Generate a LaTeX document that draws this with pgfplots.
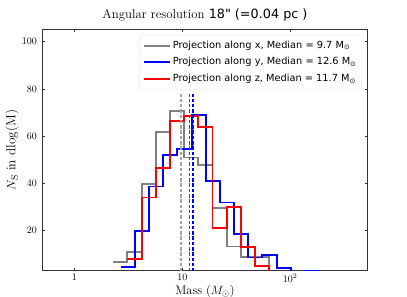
\documentclass[border=0pt]{standalone}
\usepackage{fontspec}
\usepackage{pgfplots}
\pgfplotsset{compat=1.18}
\newfontfamily\dejavu{DejaVu Sans}
\definecolor{hgray}{RGB}{128,128,128}
\definecolor{mgray}{RGB}{165,165,165}
\definecolor{hblue}{RGB}{0,0,255}
\definecolor{hred}{RGB}{255,0,0}
\begin{document}
\begin{tikzpicture}
\begin{axis}[
  at={(0,0)}, anchor=south west,
  scale only axis, width=325pt, height=241.4pt,
  xmode=log, xmin=0.506, xmax=521, ymin=2.7, ymax=105.3,
  xtick={1,10,100}, xticklabels={$1$,$10$,$10^2$},
  ytick={20,40,60,80,100},
  xminorticks=false, yminorticks=false,
  tick align=inside, major tick length=3pt,
  tick style={black!80, line width=0.6pt},
  tick label style={font=\fontsize{10}{11}\selectfont},
  yticklabel style={xshift=-2pt},
  axis line style={line width=0.9pt, draw=black!80},
  title={Angular resolution {\dejavu 18" (=0.04 pc )}},
  title style={font=\fontsize{12.8}{14}\selectfont, at={(axis description cs:0.5,1)}, anchor=base, yshift=4.3pt},
  xlabel={Mass ($M_\odot$)},
  xlabel style={font=\fontsize{12.4}{14}\selectfont, at={(axis description cs:0.5,0)}, anchor=base, yshift=-23.7pt},
  ylabel={$N_{\rm S}$ in dlog(M)},
  ylabel style={font=\fontsize{13.2}{14}\selectfont, at={(axis description cs:-0.0938,0.5)}, anchor=center},
  legend style={at={(axis description cs:1,1)}, anchor=north east, xshift=-5.8pt, yshift=-5.7pt,
    draw=black!12, rounded corners=2pt, fill=white, inner xsep=3pt, inner ysep=5.5pt,
    font=\dejavu\fontsize{9.8}{11}\selectfont, row sep=7pt,
    nodes={inner ysep=0pt, text height=7.5pt, text depth=2.2pt}},
  legend cell align=left,
  legend image code/.code={\draw[#1] (0pt,0pt) -- (26pt,0pt);},
]
\addlegendimage{draw=hgray, line width=2pt}
\addlegendentry{Projection along x, Median = 9.7 M\textsubscript{⊙}}
\addlegendimage{draw=hblue, line width=2pt}
\addlegendentry{Projection along y, Median = 12.6 M\textsubscript{⊙}}
\addlegendimage{draw=hred, line width=2pt}
\addlegendentry{Projection along z, Median = 11.7 M\textsubscript{⊙}}
\addplot[forget plot, const plot, draw=hgray, line width=1.9pt] coordinates {
(2.291,6.55)(3.097,10.6)(4.198,39.4)(5.675,61.6)(7.691,70.5)(10.40,50.8)(14.06,47.5)(19.05,29.5)(25.76,13)(34.91,8.5)(47.21,8.5)(63.83,0)};
\addplot[forget plot, const plot, draw=hblue, line width=1.9pt] coordinates {
(2.685,4.4)(3.631,19.6)(4.920,38.5)(6.653,51.8)(9.016,54.6)(12.19,68.8)(16.48,40.9)(22.34,31.7)(30.20,18.2)(40.93,8.3)(55.34,9.4)(74.82,4.0)(101.4,0)(137.1,2.8)(185.4,0)};
\addplot[forget plot, const plot, draw=hred, line width=1.9pt] coordinates {
(3.097,7.5)(4.198,33.8)(5.675,46.5)(7.691,66.4)(10.40,68.5)(14.06,63.6)(19.05,21)(25.76,29.6)(34.91,12.8)(47.21,4.7)(63.83,0)};
\addplot[forget plot, draw=mgray, line width=1.4pt, dash pattern=on 3.5pt off 1.8pt] coordinates {(9.7,0)(9.7,77.7)};
\addplot[forget plot, draw=hred, line width=1.4pt, dash pattern=on 3.5pt off 1.8pt] coordinates {(11.7,0)(11.7,77.7)};
\addplot[forget plot, draw=hblue, line width=1.4pt, dash pattern=on 3.5pt off 1.8pt] coordinates {(12.6,0)(12.6,77.7)};
\end{axis}
\pgfresetboundingbox
\useasboundingbox (-42.5pt,-26.3pt) rectangle (364.5pt,270.7pt);
\end{tikzpicture}
\end{document}
